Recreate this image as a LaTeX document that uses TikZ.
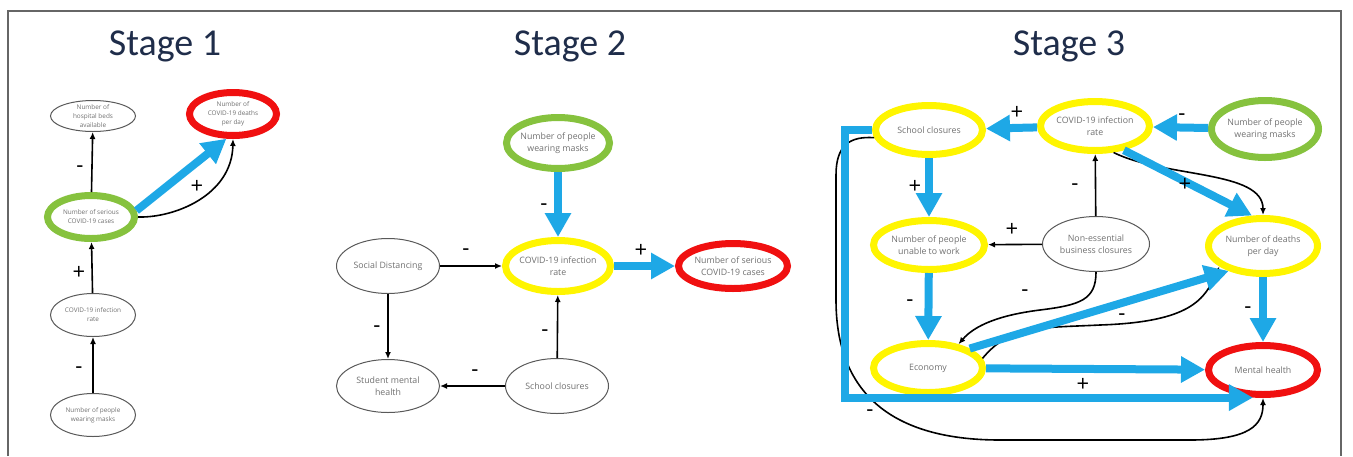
\documentclass[tikz,border=0pt]{standalone}
\usepackage{fontspec}
\setmainfont{Open Sans}
\newfontfamily\titlefont{Carlito}
\usetikzlibrary{shapes.geometric,arrows.meta}
\definecolor{cyanblue}{HTML}{1EA8E6}
\definecolor{ringyellow}{HTML}{FFF500}
\definecolor{ringgreen}{HTML}{86C23E}
\definecolor{ringred}{HTML}{F01010}
\definecolor{titlenavy}{HTML}{1F2D4A}
\definecolor{labelgray}{HTML}{707070}
\begin{document}
\begin{tikzpicture}[x=0.5pt,y=-0.5pt,
  every node/.style={font=\fontsize{4.4}{6}\selectfont, text=labelgray, align=center},
  smalltext/.style={font=\fontsize{3.2}{4.5}\selectfont},
  plainnode/.style={ellipse, draw=black!65, line width=0.5pt, inner sep=0pt},
  ring/.style={ellipse, draw=#1, line width=3.5pt, inner sep=0pt},
  stagetitle/.style={font=\titlefont\fontsize{19}{20}\selectfont, text=titlenavy, anchor=base},
  sign/.style={font=\fontsize{11}{11}\selectfont, text=black},
  blackarr/.style={-{Latex[length=3.5pt,width=3pt]}, line width=0.8pt, black},
  bluearr/.style={-{Triangle[length=12pt,width=12.5pt]}, line width=4pt, cyanblue}]
\useasboundingbox (0,0) rectangle (1353,456);
\draw[black!60, line width=0.8pt] (8,456) -- (8,11) -- (1341,11) -- (1341,456);

\node[stagetitle] (title1) at (165,55) {Stage 1};
\node[stagetitle] (title2) at (570,55) {Stage 2};
\node[stagetitle] (title3) at (1069,55) {Stage 3};

% stage 1
\node[plainnode, minimum width=42.5pt, minimum height=15.5pt, label={[smalltext]center:{Number of\\hospital beds\\available}}] (s1beds) at (93,116) {};
\node[ring=ringred, minimum width=43.5pt, minimum height=21.5pt, label={[smalltext]center:{Number of\\COVID-19 deaths\\per day}}] (s1deaths) at (233,114) {};
\node[ring=ringgreen, minimum width=43.5pt, minimum height=21.5pt, label={[smalltext]center:{Number of serious\\COVID-19 cases}}] (s1serious) at (91,217) {};
\node[plainnode, minimum width=42.5pt, minimum height=21.5pt, label={[smalltext]center:{COVID-19 infection\\rate}}] (s1rate) at (93,315) {};
\node[plainnode, minimum width=42.5pt, minimum height=21.5pt, label={[smalltext]center:{Number of people\\wearing masks}}] (s1masks) at (93,415) {};
\draw[blackarr] (s1serious) -- (s1beds);
\draw[blackarr] (s1rate) -- (s1serious);
\draw[blackarr] (s1masks) -- (s1rate);
\draw[blackarr] (s1serious.0) .. controls (175,218) and (232,195) .. (s1deaths.south);
\draw[bluearr] (s1serious.8) -- (s1deaths.255);
\node[sign] (s1m1) at (80,169) {-};
\node[sign] (s1p1) at (79,273) {+};
\node[sign] (s1m2) at (79,370) {-};
\node[sign] (s1p2) at (197,187) {+};

% stage 2
\node[ring=ringgreen, minimum width=51.5pt, minimum height=25.5pt, label=center:{Number of people\\wearing masks}] (s2masks) at (558,143) {};
\node[ring=ringyellow, minimum width=52.5pt, minimum height=25.5pt, label=center:{COVID-19 infection\\rate}] (s2rate) at (558,266) {};
\node[ring=ringred, minimum width=54.5pt, minimum height=22.5pt, label=center:{Number of serious\\COVID-19 cases}] (s2serious) at (733,266) {};
\node[plainnode, minimum width=51.5pt, minimum height=27.5pt, label=center:{Social Distancing}] (s2social) at (388,266) {};
\node[plainnode, minimum width=51.5pt, minimum height=26.5pt, label=center:{Student mental\\health}] (s2student) at (388,386) {};
\node[plainnode, minimum width=51.5pt, minimum height=27.5pt, label=center:{School closures}] (s2school) at (557,386) {};
\draw[blackarr] (s2social) -- (s2rate);
\draw[blackarr] (s2social) -- (s2student);
\draw[blackarr] (s2school) -- (s2rate);
\draw[blackarr] (s2school) -- (s2student);
\draw[bluearr] (s2masks) -- (s2rate);
\draw[bluearr] (s2rate) -- (s2serious);
\node[sign] (s2m1) at (544,207) {-};
\node[sign] (s2p1) at (641,251) {+};
\node[sign] (s2m2) at (466,252) {-};
\node[sign] (s2m3) at (377,329) {-};
\node[sign] (s2m4) at (545,333) {-};
\node[sign] (s2m5) at (475,373) {-};

% stage 3
\node[ring=ringyellow, minimum width=53.5pt, minimum height=24.5pt, label=center:{School closures}] (s3school) at (929,130) {};
\node[ring=ringyellow, minimum width=54.5pt, minimum height=24.5pt, label=center:{COVID-19 infection\\rate}] (s3rate) at (1095,126) {};
\node[ring=ringgreen, minimum width=53.5pt, minimum height=28.5pt, label=center:{Number of people\\wearing masks}] (s3masks) at (1265,129) {};
\node[ring=ringyellow, minimum width=55.5pt, minimum height=24.5pt, label=center:{Number of people\\unable to work}] (s3unable) at (929,245) {};
\node[plainnode, minimum width=53.5pt, minimum height=27.5pt, label=center:{Non-essential\\business closures}] (s3nonss) at (1096,244) {};
\node[ring=ringyellow, minimum width=54.5pt, minimum height=27.5pt, label=center:{Number of deaths\\per day}] (s3deaths) at (1263,246) {};
\node[ring=ringyellow, minimum width=54.5pt, minimum height=24.5pt, label=center:{Economy}] (s3economy) at (928,368) {};
\node[ring=ringred, minimum width=54.5pt, minimum height=24.5pt, label=center:{Mental health}] (s3mental) at (1263,370) {};
\draw[blackarr] (s3nonss) -- (s3unable);
\draw[blackarr] (s3nonss) -- (s3rate);
\draw[blackarr] (s3rate.-55) .. controls (1165,178) and (1263,170) .. (s3deaths.north);
\draw[blackarr] (s3nonss.south) .. controls (1096,300) and (1080,305) .. (1040,310) .. controls (1000,315) and (975,325) .. (s3economy.38);
\draw[blackarr] (s3economy.10) .. controls (1010,325) and (1040,328) .. (1100,325) .. controls (1190,322) and (1205,300) .. (s3deaths.205);
\draw[blackarr] (s3school.188) .. controls (850,136) and (836,145) .. (836,175) -- (836,300) .. controls (836,400) and (900,440) .. (1000,440) -- (1190,440) .. controls (1250,440) and (1263,425) .. (s3mental.south);
\draw[bluearr] (s3rate) -- (s3school);
\draw[bluearr] (s3masks) -- (s3rate);
\draw[bluearr] (s3school) -- (s3unable);
\draw[bluearr] (s3unable) -- (s3economy);
\draw[bluearr] (s3rate.-40) -- (s3deaths.110);
\draw[bluearr] (s3economy.25) -- (s3deaths.216);
\draw[bluearr] (s3economy) -- (s3mental);
\draw[bluearr] (s3deaths) -- (s3mental);
\draw[bluearr] (s3school.west) -- ++(-27,0) |- (s3mental.250);
\node[sign] (s3p1) at (1017,113) {+};
\node[sign] (s3m1) at (1182,117) {-};
\node[sign] (s3p2) at (915,187) {+};
\node[sign] (s3m2) at (1075,187) {-};
\node[sign] (s3p3) at (1012,230) {+};
\node[sign] (s3p4) at (1185,185) {+};
\node[sign] (s3m3) at (910,303) {-};
\node[sign] (s3m4) at (1025,293) {-};
\node[sign] (s3m5) at (1122,317) {-};
\node[sign] (s3m6) at (1248,310) {-};
\node[sign] (s3p5) at (1083,385) {+};
\node[sign] (s3m7) at (870,413) {-};
\end{tikzpicture}
\end{document}
